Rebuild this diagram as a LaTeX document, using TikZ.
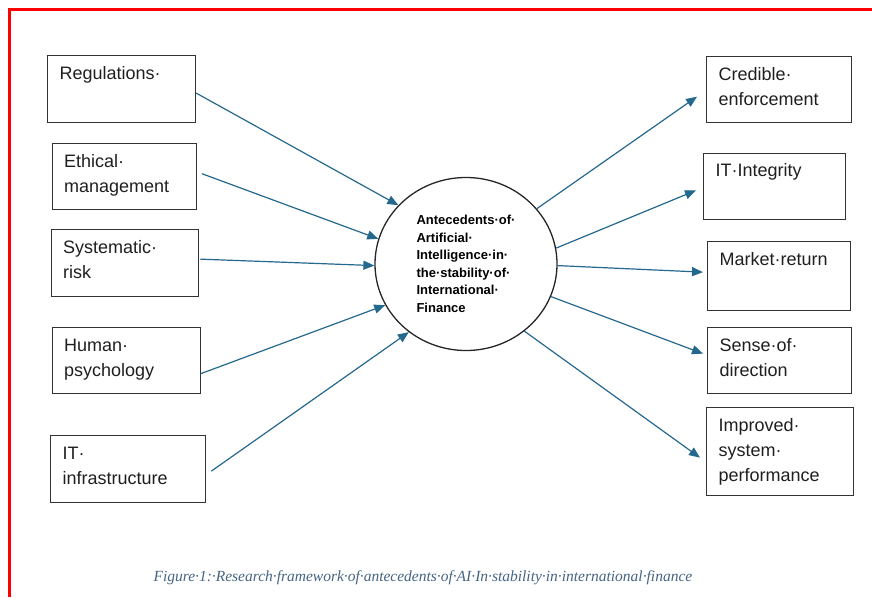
\documentclass[tikz,border=0pt]{standalone}
\usepackage{fontspec}
\setmainfont{Liberation Sans}
\newfontfamily\capfont{Liberation Serif}
\usetikzlibrary{shapes.geometric,arrows.meta}
\definecolor{linkblue}{RGB}{36,104,142}
\definecolor{capblue}{RGB}{70,100,132}
% text of a box, kept at the top of a fixed size
\newcommand{\boxtxt}[3]{\parbox[t][#2][t]{#1}{\raggedright\strut #3}}

\begin{document}
\begin{tikzpicture}[x=1pt,y=-1pt]
\tikzstyle{factor}=[draw=black!80, line width=1.3pt, anchor=north west,
inner xsep=12pt, inner ysep=6pt, text=black!88,
font=\fontsize{18}{25}\selectfont]
\tikzstyle{core}=[ellipse, draw=black!85, line width=1.3pt,
minimum width=182pt, minimum height=173pt, align=left, inner sep=0pt,
font=\bfseries\fontsize{13}{17.5}\selectfont]
\tikzstyle{link}=[draw=linkblue, line width=1.2pt,
-{Triangle[length=11pt,width=9pt]}]

\useasboundingbox (0,0) rectangle (872,597);
% screenshot frame
\draw[red, line width=2.5pt] (9.5,597) -- (9.5,9.5) -- (872,9.5);

\node[core] at (466,264) (ctr) {Antecedents·of·\\Artificial·\\Intelligence·in·\\the·stability·of·\\International·\\Finance};

% antecedents
\node[factor] at (47,55)    (reg)   {\boxtxt{124pt}{55pt}{Regulations·}};
\node[factor] at (51.5,143) (eth)   {\boxtxt{120pt}{54pt}{Ethical·\\management}};
\node[factor] at (50.5,229) (sys)   {\boxtxt{123pt}{55pt}{Systematic·\\risk}};
\node[factor] at (51.5,327) (hum)   {\boxtxt{124pt}{54pt}{Human·\\psychology}};
\node[factor] at (50,435)   (itinf) {\boxtxt{131pt}{55pt}{IT·\\infrastructure}};

% outcomes
\node[factor] at (706,56)    (cred)  {\boxtxt{121pt}{54pt}{Credible·\\enforcement}};
\node[factor] at (703,152.5) (itint) {\boxtxt{118pt}{54.5pt}{IT·Integrity}};
\node[factor] at (707,241)   (mkt)   {\boxtxt{119pt}{57pt}{Market·return}};
\node[factor] at (707,327)   (sense) {\boxtxt{120pt}{54pt}{Sense·of·\\direction}};
\node[factor] at (706,407)   (impr)  {\boxtxt{123pt}{76pt}{Improved·\\system·\\performance}};

\node[anchor=west, text=capblue, font=\capfont\itshape\fontsize{15.5}{18}\selectfont]
  at (150,578) (cap) {Figure·1:·Research·framework·of·antecedents·of·AI·In·stability·in·international·finance};

\draw[link] ([yshift=-4pt]reg.east) -- (ctr.139);
\draw[link] ([xshift=5pt,yshift=3pt]eth.east) -- (ctr.164);
\draw[link] ([xshift=1.5pt,yshift=4pt]sys.east) -- (ctr.181);
\draw[link] ([yshift=-13pt]hum.east) -- (ctr.207);
\draw[link] ([xshift=5pt,yshift=-2pt]itinf.east) -- (ctr.230);

\draw[link] (ctr.38) -- ([xshift=-9pt,yshift=-7pt]cred.west);
\draw[link] (ctr.10) -- ([xshift=-7pt,yshift=-4pt]itint.west);
\draw[link] (ctr.359) -- ([xshift=-4pt,yshift=4pt]mkt.west);
\draw[link] (ctr.-21) -- ([xshift=-4pt,yshift=7pt]sense.west);
\draw[link] (ctr.-49) -- ([xshift=-6pt,yshift=-6pt]impr.west);

\end{tikzpicture}
\end{document}
